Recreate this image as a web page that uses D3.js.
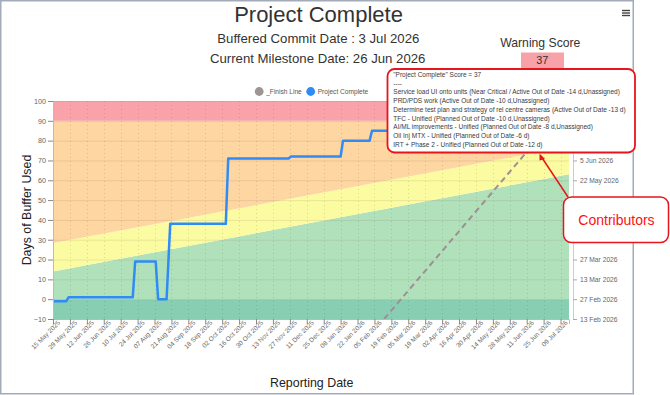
<!DOCTYPE html>
<html><head><meta charset="utf-8">
<script src="https://cdn.jsdelivr.net/npm/d3@7"></script>
<style>
html,body{margin:0;padding:0;background:#fff;}
svg{display:block;font-family:"Liberation Sans",Arial,sans-serif;}
</style></head>
<body><svg id="c" width="670" height="395"></svg>
<script>
// ---------- data ----------
const xDomain = ["2025-05-15", "2026-07-16"];
const yTicks = [-10, 0, 10, 20, 30, 40, 50, 60, 70, 80, 90, 100];
const xTickStart = "2025-05-15", xTickEnd = "2026-07-09", xTickStepDays = 14;
const rightTickStart = "2026-02-13", rightTickEnd = "2026-07-17";
const completeDates = ["2025-05-15","2025-05-26","2025-05-28","2025-07-20","2025-07-22","2025-08-08","2025-08-10","2025-08-17","2025-08-20","2025-10-05","2025-10-07","2025-11-26","2025-11-28","2026-01-08","2026-01-10","2026-02-01","2026-02-03","2026-02-16"];
const completeValues = [-1,-1,1,1,19,19,0,0,38,38,71,71,72,72,80,80,85,85];
const finishDates = ["2026-02-13", "2026-07-03"];
const finishValues = [-10, 90];
const zoneDates = ["2025-05-15", "2026-07-16"];
const greenTop = [14, 63];
const yellowTop = [28.3, 77];
const redStart = 90, darkGreenTop = 0;
const legendNames = ["_Finish Line", "Project Complete"];
const legendColors = ["#9e9494", "#2f8bf5"];
const titleText = "Project Complete";
const subtitle1 = "Buffered Commit Date : 3 Jul 2026";
const subtitle2 = "Current Milestone Date: 26 Jun 2026";
const warningLabel = "Warning Score";
const warningScore = "37";
const tooltipLines = [
  "\"Project Complete\" Score = 37",
  "----",
  "Service load UI onto units (Near Critical / Active Out of Date -14 d,Unassigned)",
  "PRD/PDS work (Active Out of Date -10 d,Unassigned)",
  "Determine test plan and strategy of rel centre cameras (Active Out of Date -13 d)",
  "TFC - Unified (Planned Out of Date -10 d,Unassigned)",
  "AI/ML improvements - Unified (Planned Out of Date -8 d,Unassigned)",
  "Oil Inj MTX - Unified (Planned Out of Date -6 d)",
  "IRT + Phase 2 - Unified (Planned Out of Date -12 d)"
];
const calloutText = "Contributors";
const xTitle = "Reporting Date", yTitle = "Days of Buffer Used";

// ---------- setup ----------
const parse = d3.timeParse("%Y-%m-%d");
const svg = d3.select("#c");
const L = 53, R = 569, T = 101, B = 319;
const x = d3.scaleTime().domain(xDomain.map(parse)).range([L, R]);
const y = d3.scaleLinear().domain([-10, 100]).range([B, T]);

// overlay boxes (annotation)
const tipBox = {x:387.5, y:69, w:247.5, h:83.5};
const callBox = {x:563.5, y:197, w:105, h:45.5};

// frame
svg.append("rect").attr("x",0.75).attr("y",0.75).attr("width",632.5).attr("height",393)
  .attr("fill","#fff").attr("stroke","#a3aab8").attr("stroke-width",1.5);

svg.append("defs").append("clipPath").attr("id","clip")
  .append("rect").attr("x",L).attr("y",T).attr("width",R-L).attr("height",B-T);

const plot = svg.append("g").attr("clip-path","url(#clip)");
const zd = zoneDates.map(parse);
const zoneRows = zd.map((d,i)=>({d, g:greenTop[i], yl:yellowTop[i]}));
const band = (lo, hi, color) => {
  plot.append("path").datum(zoneRows)
    .attr("d", d3.area().x(r=>x(r.d)).y0(r=>y(lo(r))).y1(r=>y(hi(r))))
    .attr("fill", color);
};
band(()=>-10, ()=>darkGreenTop, "#88ceb3");
band(()=>darkGreenTop, r=>r.g, "#b0e1bb");
band(r=>r.g, r=>r.yl, "#fbfba2");
band(r=>r.yl, ()=>redStart, "#fdd6a2");
band(()=>redStart, ()=>100, "#f9a2a9");

// x ticks
const xTickVals = d3.timeDay.every(1).range(parse(xTickStart), d3.timeDay.offset(parse(xTickEnd),1))
  .filter((d,i)=>i % xTickStepDays === 0);

// gridlines
plot.selectAll(".hg").data(yTicks).join("line")
  .attr("x1",L).attr("x2",R).attr("y1",d=>y(d)+0.5).attr("y2",d=>y(d)+0.5)
  .attr("stroke","rgba(120,90,60,0.13)").attr("stroke-width",1);
plot.selectAll(".vg").data(xTickVals).join("line")
  .attr("x1",d=>Math.round(x(d))+0.5).attr("x2",d=>Math.round(x(d))+0.5).attr("y1",T).attr("y2",B)
  .attr("stroke","rgba(90,90,90,0.22)").attr("stroke-dasharray","1,3");

// finish line
plot.append("path").datum(finishDates.map((d,i)=>({d:parse(d), v:finishValues[i]})))
  .attr("d", d3.line().x(r=>x(r.d)).y(r=>y(r.v)))
  .attr("fill","none").attr("stroke","#9e8f93").attr("stroke-width",2).attr("stroke-dasharray","6,4");

// project complete
plot.append("path").datum(completeDates.map((d,i)=>({d:parse(d), v:completeValues[i]})))
  .attr("d", d3.line().x(r=>x(r.d)).y(r=>y(r.v)))
  .attr("fill","none").attr("stroke","#2f8bf5").attr("stroke-width",2.5).attr("stroke-linejoin","round");

// left axis
const yAx = svg.append("g").attr("transform",`translate(${L},0)`)
  .call(d3.axisLeft(y).tickValues(yTicks).tickSize(5).tickPadding(2));
yAx.select(".domain").attr("stroke","#bbb");
yAx.selectAll(".tick line").attr("stroke","#888");
yAx.selectAll("text").attr("fill","#666").attr("font-size","7.2px").attr("font-family","Liberation Sans, Arial");

// bottom axis
const xAx = svg.append("g").attr("transform",`translate(0,${B})`)
  .call(d3.axisBottom(x).tickValues(xTickVals).tickSize(5).tickFormat(d3.timeFormat("%d %b %Y")));
xAx.select(".domain").attr("stroke","#bbb");
xAx.selectAll(".tick line").attr("stroke","#888");
xAx.selectAll("text").attr("fill","#666").attr("font-size","6.5px").attr("font-family","Liberation Sans, Arial")
  .attr("text-anchor","end").attr("dy","0").attr("y",8).attr("x",2)
  .attr("transform","rotate(-45)");

// right axis (dates); labels under the annotation boxes are not shown (hidden in reference)
const yr = d3.scaleTime().domain([parse(rightTickStart), parse(rightTickEnd)]).range([y(-10), y(100)]);
const rTicks = d3.timeDay.every(1).range(parse(rightTickStart), d3.timeDay.offset(parse(rightTickEnd),1))
  .filter((d,i)=>i % 14 === 0);
const covered = v => {
  const py = yr(v);
  return (py > tipBox.y - 4 && py < tipBox.y + tipBox.h + 3) || (py > callBox.y - 4 && py < callBox.y + callBox.h + 3);
};
const fmtR = d3.timeFormat("%-d %b %Y");
const rAx = svg.append("g").attr("transform",`translate(573,0)`)
  .call(d3.axisRight(yr).tickValues(rTicks).tickSize(4).tickPadding(3).tickFormat(d => covered(d) ? "" : fmtR(d)));
rAx.select(".domain").attr("stroke","#ccc");
rAx.selectAll(".tick line").attr("stroke","#aaa");
rAx.selectAll("text").attr("fill","#666").attr("font-size","6.7px").attr("font-family","Liberation Sans, Arial");

// titles
svg.append("text").attr("x",318.5).attr("y",22).attr("text-anchor","middle")
  .attr("font-size","22px").attr("fill","#333").text(titleText);
svg.append("text").attr("x",318.3).attr("y",43.3).attr("text-anchor","middle")
  .attr("font-size","13.2px").attr("fill","#333").text(subtitle1);
svg.append("text").attr("x",317.7).attr("y",63.3).attr("text-anchor","middle")
  .attr("font-size","13.2px").attr("fill","#333").text(subtitle2);
svg.append("text").attr("x",540.3).attr("y",47).attr("text-anchor","middle")
  .attr("font-size","12.2px").attr("fill","#333").text(warningLabel);
svg.append("rect").attr("x",521).attr("y",52.5).attr("width",43).attr("height",16).attr("fill","#f7a1a9");
svg.append("text").attr("x",542.3).attr("y",63.5).attr("text-anchor","middle")
  .attr("font-size","10.8px").attr("fill","#333").text(warningScore);

// hamburger
[10.5,13,15.5].forEach(v=>svg.append("line").attr("x1",622).attr("x2",630).attr("y1",v).attr("y2",v)
  .attr("stroke","#444").attr("stroke-width",1.4));

// legend
const legX = [259.2, 310.7];
legendNames.forEach((n,i)=>{
  svg.append("circle").attr("cx",legX[i]).attr("cy",91.5).attr("r",4.4).attr("fill",legendColors[i]);
  svg.append("text").attr("x",legX[i]+7).attr("y",93.8).attr("font-size","6.6px").attr("fill","#555").text(n);
});

// axis titles
svg.append("text").attr("transform","translate(31,210) rotate(-90)").attr("text-anchor","middle")
  .attr("font-size","12.4px").attr("fill","#222").text(yTitle);
svg.append("text").attr("x",311.7).attr("y",387).attr("text-anchor","middle")
  .attr("font-size","12.4px").attr("fill","#222").text(xTitle);

// tooltip box
svg.append("rect").attr("x",tipBox.x).attr("y",tipBox.y).attr("width",tipBox.w).attr("height",tipBox.h).attr("rx",7)
  .attr("fill","#fff").attr("stroke","#e8141c").attr("stroke-width",1.8);
svg.selectAll(".tt").data(tooltipLines).join("text")
  .attr("x",393.3).attr("y",(d,i)=>77+i*8.7).attr("font-size","6.5px").attr("fill","#3a3a3a").text(d=>d);

// arrow + callout
svg.append("line").attr("x1",568).attr("y1",197).attr("x2",541.5).attr("y2",157)
  .attr("stroke","#e8141c").attr("stroke-width",1.5);
svg.append("path").attr("d","M539.5,153.5 L545,159 L539.5,160.5 Z").attr("fill","#e8141c");
svg.append("rect").attr("x",callBox.x).attr("y",callBox.y).attr("width",callBox.w).attr("height",callBox.h).attr("rx",8)
  .attr("fill","#fff").attr("stroke","#e8141c").attr("stroke-width",1.5);
svg.append("text").attr("x",616.5).attr("y",225).attr("text-anchor","middle")
  .attr("font-size","14px").attr("fill","#ff1010").text(calloutText);
</script></body></html>
